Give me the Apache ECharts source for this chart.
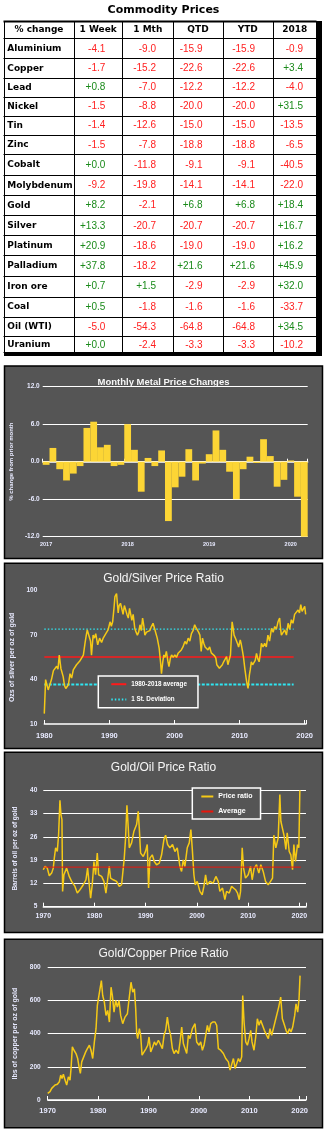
<!DOCTYPE html>
<html><head><meta charset="utf-8">
<script src="https://cdn.jsdelivr.net/npm/echarts/dist/echarts.min.js"></script>
<style>html,body{margin:0;padding:0;background:#fff}#c{width:327px;height:1130px}</style>
</head><body><div id="c"></div>
<script>
// ---------- Table data ----------
const tableHeaders = ['% change', '1 Week', '1 Mth', 'QTD', 'YTD', '2018'];
const commodities = ['Aluminium','Copper','Lead','Nickel','Tin','Zinc','Cobalt','Molybdenum','Gold','Silver','Platinum','Palladium','Iron ore','Coal','Oil (WTI)','Uranium'];
const chgWeek  = [-4.1, -1.7, 0.8, -1.5, -1.4, -1.5, 0.0, -9.2, 8.2, 13.3, 20.9, 37.8, 0.7, 0.5, -5.0, 0.0];
const chgMonth = [-9.0, -15.2, -7.0, -8.8, -12.6, -7.8, -11.8, -19.8, -2.1, -20.7, -18.6, -18.2, 1.5, -1.8, -54.3, -2.4];
const chgQTD   = [-15.9, -22.6, -12.2, -20.0, -15.0, -18.8, -9.1, -14.1, 6.8, -20.7, -19.0, 21.6, -2.9, -1.6, -64.8, -3.3];
const chgYTD   = [-15.9, -22.6, -12.2, -20.0, -15.0, -18.8, -9.1, -14.1, 6.8, -20.7, -19.0, 21.6, -2.9, -1.6, -64.8, -3.3];
const chg2018  = [-0.9, 3.4, -4.0, 31.5, -13.5, -6.5, -40.5, -22.0, 18.4, 16.7, 16.2, 45.9, 32.0, -33.7, 34.5, -10.2];

// ---------- Monthly metal price changes ----------
const monthLabels = ['Jan 2017','Feb 2017','Mar 2017','Apr 2017','May 2017','Jun 2017','Jul 2017','Aug 2017','Sep 2017','Oct 2017','Nov 2017','Dec 2017',
  'Jan 2018','Feb 2018','Mar 2018','Apr 2018','May 2018','Jun 2018','Jul 2018','Aug 2018','Sep 2018','Oct 2018','Nov 2018','Dec 2018',
  'Jan 2019','Feb 2019','Mar 2019','Apr 2019','May 2019','Jun 2019','Jul 2019','Aug 2019','Sep 2019','Oct 2019','Nov 2019','Dec 2019',
  'Jan 2020','Feb 2020','Mar 2020'];
const monthlyChange = [-0.5, 2.2, -1.2, -3.0, -1.9, -0.7, 5.4, 6.4, 2.3, 2.7, -0.7, -0.5,
  6.0, 1.9, -4.8, 0.6, -0.7, 1.8, -9.5, -4.1, -2.4, 2.0, -3.0, -0.3,
  1.2, 5.0, 1.9, -1.6, -6.0, -1.2, 0.8, -0.2, 3.6, 0.9, -4.0, -2.9,
  0.2, -5.6, -12.1];

// ---------- Gold/Silver ratio ----------
const goldSilverRatio = [[1980.0,17],[1980.2,40],[1980.4,39],[1980.6,33],[1980.8,32],[1981.1,40],[1981.4,46],[1981.7,47],[1981.9,49],[1982.1,47],[1982.3,56.5],[1982.55,47.5],[1982.9,42],[1983.1,36],[1983.3,34],[1983.5,33.5],[1983.7,36.5],[1983.95,44],[1984.2,41],[1984.45,46.5],[1984.7,47],[1984.95,50],[1985.2,49],[1985.45,52.5],[1985.7,53],[1986.0,56.5],[1986.25,64.5],[1986.45,70],[1986.6,73.5],[1986.9,72.5],[1987.1,66],[1987.25,56.5],[1987.5,70],[1987.7,68],[1987.9,71],[1988.2,63.5],[1988.5,68],[1988.8,65],[1989.05,68],[1989.45,71],[1989.8,73.5],[1990.1,79],[1990.3,76],[1990.5,79],[1990.7,88],[1990.85,96],[1991.1,98],[1991.35,85],[1991.5,90],[1991.7,91.5],[1991.9,88],[1992.1,84],[1992.3,90],[1992.5,89],[1992.7,84],[1992.9,81.5],[1993.1,88],[1993.25,88],[1993.45,80],[1993.65,84],[1993.9,74.5],[1994.1,72],[1994.3,70],[1994.5,72],[1994.7,77],[1994.9,73],[1995.1,81.5],[1995.3,76],[1995.45,70],[1995.7,72],[1995.95,71],[1996.2,73],[1996.45,75.8],[1996.7,78],[1997.0,73.5],[1997.35,68],[1997.65,61],[1997.85,52],[1998.0,44],[1998.2,52],[1998.36,56.6],[1998.55,55],[1998.75,59],[1999.0,52],[1999.15,48.7],[1999.35,54],[1999.55,56.6],[1999.8,55],[2000.05,56.6],[2000.3,55],[2000.55,57.7],[2000.8,58],[2001.05,60],[2001.3,62],[2001.6,65.7],[2001.85,64],[2002.1,68],[2002.35,66],[2002.6,71],[2002.85,73],[2003.1,77],[2003.3,75],[2003.5,75.8],[2003.7,72],[2003.9,70],[2004.1,59],[2004.3,68],[2004.5,64.5],[2004.7,62],[2004.9,61],[2005.15,60],[2005.4,62],[2005.65,58],[2005.9,59],[2006.15,56],[2006.35,54.5],[2006.5,50],[2006.7,50],[2006.9,47.6],[2007.1,47.6],[2007.35,50],[2007.55,52],[2007.8,53],[2008.0,55.5],[2008.2,50],[2008.4,50],[2008.6,56.6],[2008.85,79],[2009.0,75],[2009.15,70],[2009.35,68],[2009.5,68],[2009.7,64],[2009.85,62],[2010.1,66.8],[2010.25,64],[2010.45,59],[2010.6,55],[2010.8,47.6],[2011.0,41],[2011.15,37],[2011.3,34],[2011.5,43],[2011.65,47],[2011.8,52],[2012.0,50],[2012.2,51],[2012.4,53],[2012.6,57.7],[2012.8,54],[2013.0,52],[2013.2,58],[2013.35,64.5],[2013.6,62],[2013.85,64.5],[2014.1,62],[2014.35,70],[2014.6,66],[2014.9,74.6],[2015.15,72],[2015.4,75.8],[2015.65,74],[2015.9,79],[2016.15,81.5],[2016.3,74],[2016.42,70],[2016.7,69],[2016.93,73.5],[2017.2,70],[2017.45,78],[2017.7,74],[2017.95,80.4],[2018.2,78],[2018.45,84],[2018.7,83],[2018.98,87],[2019.2,85],[2019.4,90.6],[2019.6,86],[2019.75,86],[2020.0,89.5],[2020.15,84]];
const gsPeriod = [1980, 2018.3];
const gsAverage = 55.3;
const gsStdUpper = 74.0;
const gsStdLower = 36.6;

// ---------- Gold/Oil ratio ----------
const goldOilRatio = [[1970,16.1],[1970.33,17.1],[1970.78,16.6],[1971.17,14.3],[1971.63,15.1],[1971.95,16.6],[1972.15,19.6],[1972.41,22.7],[1972.73,21.6],[1972.99,26.7],[1973.25,37.0],[1973.45,32.7],[1973.64,31.2],[1973.77,9.6],[1974.03,14.6],[1974.55,16.6],[1975.07,14.1],[1975.53,12.6],[1976.18,11.1],[1976.64,9.1],[1977.16,10.1],[1977.81,11.6],[1978.33,13.1],[1978.65,16.6],[1978.98,11.6],[1979.24,7.6],[1979.56,11.6],[1979.89,18.6],[1980.21,14.6],[1980.54,21.1],[1980.8,14.6],[1981.39,14.1],[1981.84,12.6],[1982.23,9.1],[1982.56,13.1],[1982.88,17.1],[1983.14,13.6],[1983.66,13.1],[1984.31,12.6],[1984.83,11.1],[1985.29,11.6],[1985.61,11.1],[1985.81,19.6],[1986.07,25.7],[1986.33,35.5],[1986.59,28.7],[1986.79,22.7],[1987.24,24.2],[1987.7,27.7],[1988.22,29.7],[1988.54,33.7],[1988.74,28.7],[1989.0,21.1],[1989.52,20.1],[1989.97,21.7],[1990.3,23.7],[1990.56,10.6],[1990.82,19.6],[1991.28,20.6],[1991.67,18.6],[1992.12,17.6],[1992.64,18.1],[1993.1,20.6],[1993.55,25.2],[1993.88,26.5],[1994.27,23.7],[1994.72,22.7],[1995.24,23.7],[1995.7,21.6],[1996.16,22.7],[1996.68,17.1],[1997.0,15.6],[1997.33,19.1],[1997.65,17.1],[1998.11,22.7],[1998.5,24.2],[1998.82,28.2],[1999.08,22.7],[1999.41,14.6],[1999.67,11.6],[2000.06,12.6],[2000.58,9.6],[2001.03,8.6],[2001.36,11.1],[2001.69,14.6],[2002.01,11.6],[2002.53,12.6],[2003.18,12.1],[2003.7,14.1],[2004.16,12.6],[2004.48,9.6],[2005.0,10.6],[2005.46,7.1],[2005.79,9.6],[2006.31,9.1],[2006.76,11.1],[2007.09,10.6],[2007.54,10.1],[2007.93,9.1],[2008.26,7.1],[2008.52,9.6],[2008.84,22.7],[2009.1,16.6],[2009.49,13.6],[2010.01,14.6],[2010.47,17.1],[2010.79,13.1],[2011.18,16.6],[2011.64,17.6],[2012.09,15.1],[2012.48,17.6],[2012.94,15.6],[2013.4,12.6],[2013.92,11.6],[2014.37,12.6],[2014.76,13.6],[2015.02,26.5],[2015.41,22.7],[2015.87,25.7],[2016.19,38.7],[2016.39,30.7],[2016.72,30.2],[2017.04,26.2],[2017.37,22.2],[2017.63,27.2],[2018.02,21.6],[2018.34,20.6],[2018.67,16.1],[2018.93,23.7],[2019.25,18.6],[2019.64,23.7],[2019.9,22.7],[2020.1,40]];
const goPeriod = [1970, 2020.3];
const goAverage = 16.9;

// ---------- Gold/Copper ratio ----------
const goldCopperRatio = [[1970.0,40],[1970.46,50],[1970.79,70],[1971.12,80],[1971.46,90],[1971.92,95],[1972.31,110],[1972.58,150],[1972.84,130],[1973.11,155],[1973.44,120],[1973.77,90],[1974.1,140],[1974.43,120],[1974.63,190],[1974.89,320],[1975.22,300],[1975.62,280],[1975.95,250],[1976.22,200],[1976.48,160],[1976.75,230],[1977.08,220],[1977.54,290],[1977.87,310],[1978.27,330],[1978.6,300],[1978.93,250],[1979.26,350],[1979.59,430],[1979.85,570],[1980.19,560],[1980.38,670],[1980.65,720],[1980.91,630],[1981.24,590],[1981.57,510],[1981.9,540],[1982.24,470],[1982.57,680],[1982.83,630],[1983.16,530],[1983.49,600],[1983.82,560],[1984.15,600],[1984.48,510],[1984.88,460],[1985.34,500],[1985.81,520],[1986.2,530],[1986.53,710],[1986.87,650],[1987.2,670],[1987.46,550],[1987.66,400],[1987.86,370],[1988.19,430],[1988.45,390],[1988.72,270],[1989.11,260],[1989.51,310],[1989.84,330],[1990.11,380],[1990.44,290],[1990.83,320],[1991.16,350],[1991.5,330],[1991.96,360],[1992.29,340],[1992.75,310],[1993.08,390],[1993.41,420],[1993.74,500],[1994.07,430],[1994.4,390],[1994.74,310],[1995.07,280],[1995.46,300],[1995.93,280],[1996.26,350],[1996.59,440],[1996.92,340],[1997.25,310],[1997.58,280],[1997.91,390],[1998.24,370],[1998.7,430],[1999.23,460],[1999.56,350],[2000.03,330],[2000.36,350],[2000.69,300],[2001.02,330],[2001.35,390],[2001.68,450],[2002.01,410],[2002.34,460],[2002.74,470],[2003.2,470],[2003.53,450],[2003.86,310],[2004.33,300],[2004.86,280],[2005.32,250],[2005.85,230],[2006.18,180],[2006.51,170],[2006.85,250],[2007.18,190],[2007.5,180],[2007.84,250],[2008.17,230],[2008.49,260],[2008.69,630],[2008.96,470],[2009.29,350],[2009.62,330],[2009.95,370],[2010.28,420],[2010.54,350],[2010.93,300],[2011.27,380],[2011.6,490],[2011.93,450],[2012.26,480],[2012.59,490],[2012.99,420],[2013.45,390],[2013.78,370],[2014.11,430],[2014.44,390],[2014.77,380],[2015.1,470],[2015.44,460],[2015.83,560],[2016.23,620],[2016.56,490],[2016.89,460],[2017.29,420],[2017.62,400],[2017.95,430],[2018.28,410],[2018.61,440],[2019.01,510],[2019.27,580],[2019.6,530],[2019.87,610],[2020.07,750]];

// ---------- Styling / layout ----------
const PANEL = '#555555', LAB = '#e8eaff', GOLD = '#f5c916', BAR = '#fcd535';
const FONT = '"Liberation Sans", Arial, sans-serif';
const colX = [4, 74, 122.3, 173.3, 222.7, 272.7, 316.7];
const rowY = [21, 38.3, 58.3, 77.6, 96.6, 115.5, 134.5, 154.3, 174.7, 195, 215.3, 235.3, 255.3, 275.7, 296.5, 316.5, 336.2, 352.3];
const valRight = [105.3, 156, 202.5, 255, 303];
const panels = [[366, 558.5], [563.3, 748.5], [752.3, 932.5], [939.3, 1127.7]];

const px = v => Math.round(v) + 0.5;
const g = [];
panels.forEach(p => g.push({type:'rect', z:-100, silent:true, shape:{x:4.5, y:p[0], width:318, height:p[1]-p[0]}, style:{fill:PANEL, stroke:'#000', lineWidth:1.5}}));
// table
g.push({type:'text', x:163.5, y:10.5, silent:true, style:{text:'Commodity Prices', fill:'#000', font:'bold 11px "DejaVu Sans"', textAlign:'center', textVerticalAlign:'middle', verticalAlign:'middle'}});
g.push({type:'rect', silent:true, shape:{x:316, y:21, width:6, height:335}, style:{fill:'#000'}});
g.push({type:'rect', silent:true, shape:{x:4, y:352, width:318, height:4}, style:{fill:'#000'}});
rowY.forEach((y,i) => g.push({type:'line', silent:true, shape:{x1:3.5, y1:px(y), x2:316.5, y2:px(y)}, style:{stroke:'#000', lineWidth: i===0 ? 2 : 1}}));
colX.forEach(x => g.push({type:'line', silent:true, shape:{x1:px(x), y1:21, x2:px(x), y2:352}, style:{stroke:'#000', lineWidth:1}}));
tableHeaders.forEach((h,j) => g.push({type:'text', silent:true, x:(colX[j]+colX[j+1])/2, y:(rowY[0]+rowY[1])/2+0.5,
  style:{text:h, fill:'#000', font:'bold 9px "DejaVu Sans"', textAlign:'center', textVerticalAlign:'middle', verticalAlign:'middle'}}));
const cols = [chgWeek, chgMonth, chgQTD, chgYTD, chg2018];
commodities.forEach((name,i) => {
  const cy = (rowY[i+1]+rowY[i+2])/2 + 0.5;
  g.push({type:'text', silent:true, x:7.3, y:cy, style:{text:name, fill:'#000', font:'bold 9px "DejaVu Sans"', textAlign:'left', textVerticalAlign:'middle', verticalAlign:'middle'}});
  cols.forEach((arr,j) => {
    const v = arr[i];
    const s = (v >= 0 ? '+' : '') + v.toFixed(1);
    g.push({type:'text', silent:true, x:valRight[j], y:cy, style:{text:s, fill: v >= 0 ? '#1a8a1a' : '#ff2020', font:'10px ' + FONT, textAlign:'right', textVerticalAlign:'middle', verticalAlign:'middle'}});
  });
});

const lab = (size, extra) => Object.assign({color:LAB, fontSize:size, fontWeight:'bold', fontFamily:FONT}, extra||{});
const yearFmt = v => (Math.abs(v % 10) < 1e-6 ? String(Math.round(v)) : '');
const titleStyle = (size, weight) => ({color:'#f6f6f6', fontSize:size, fontWeight:weight, fontFamily:FONT});

const option = {
  animation: false,
  graphic: {elements: g},
  title: [
    {text:'Monthly Metal Price Changes', left:'center', top:377, padding:0, textStyle:titleStyle(9.5,'bold')},
    {text:'Gold/Silver Price Ratio', left:'center', top:573, padding:0, textStyle:titleStyle(12,'normal')},
    {text:'Gold/Oil Price Ratio', left:'center', top:762, padding:0, textStyle:titleStyle(12,'normal')},
    {text:'Gold/Copper Price Ratio', left:'center', top:948, padding:0, textStyle:titleStyle(12,'normal')}
  ],
  legend: [
    {left:98.3, top:676, orient:'vertical', selectedMode:false, itemWidth:15, itemHeight:8, itemGap:9, padding:[5,11,5,12],
     borderColor:'#fff', borderWidth:1.5, borderRadius:0, backgroundColor:PANEL, itemStyle:{opacity:0},
     textStyle:lab(6.3,{color:'#fff'}), data:['1980-2018 average','1 St. Deviation']},
    {left:192.3, top:788, orient:'vertical', selectedMode:false, itemWidth:12, itemHeight:8, itemGap:8, padding:[5,8,4,8],
     borderColor:'#fff', borderWidth:1.5, borderRadius:0, backgroundColor:PANEL, itemStyle:{opacity:0},
     textStyle:lab(7,{color:'#fff'}), data:['Price ratio','Average']}
  ],
  grid: [
    {left:42, top:386.7, width:265.7, height:150},
    {left:44.3, top:590.7, width:261.7, height:133.3},
    {left:43.3, top:790.3, width:262.7, height:116.4},
    {left:47.7, top:967.3, width:258.3, height:132.7}
  ],
  xAxis: [
    {gridIndex:0, type:'category', data:monthLabels, axisLine:{show:false, onZero:false}, axisTick:{show:false},
     axisLabel:Object.assign(lab(5.5), {interval:(i)=> i % 12 === 0, formatter:v => v.slice(-4), margin:5}), splitLine:{show:false}},
    {gridIndex:0, type:'category', data:monthLabels, position:'top', axisLine:{onZero:true, lineStyle:{color:'#fff', width:1.5}},
     axisTick:{show:true, interval:(i)=> i % 12 === 0, length:3, lineStyle:{color:'#fff'}}, axisLabel:{show:false}, splitLine:{show:false}},
    {gridIndex:1, type:'value', min:1980, max:2020.2, interval:10, axisLine:{onZero:false, lineStyle:{color:'#fff', width:1.5}},
     axisTick:{inside:true, length:4, lineStyle:{color:'#fff'}}, axisLabel:Object.assign(lab(7.5), {formatter:yearFmt, margin:8}), splitLine:{show:false}},
    {gridIndex:2, type:'value', min:1970, max:2021.3, interval:10, axisLine:{onZero:false, lineStyle:{color:'#fff', width:1.5}},
     axisTick:{inside:true, length:4, lineStyle:{color:'#fff'}}, axisLabel:Object.assign(lab(7), {formatter:yearFmt, margin:6}), splitLine:{show:false}},
    {gridIndex:3, type:'value', min:1970, max:2021.25, interval:10, axisLine:{onZero:false, lineStyle:{color:'#fff', width:1.5}},
     axisTick:{inside:true, length:4, lineStyle:{color:'#fff'}}, axisLabel:Object.assign(lab(7.5), {formatter:yearFmt, margin:7}), splitLine:{show:false}}
  ],
  yAxis: [
    {gridIndex:0, type:'value', min:-12, max:12, interval:6, axisLine:{show:false}, axisTick:{show:false},
     axisLabel:Object.assign(lab(6.5), {formatter:v => v.toFixed(1), margin:3}),
     splitLine:{lineStyle:{color:'#fff', width:1}},
     name:'% change from prior month', nameLocation:'middle', nameRotate:90, nameGap:19, nameTextStyle:lab(6)},
    {gridIndex:1, type:'value', min:10, max:100, interval:30, axisLine:{show:false}, axisTick:{show:false},
     axisLabel:Object.assign(lab(6.5), {margin:7}), splitLine:{show:false},
     name:'Ozs of silver per oz of gold', nameLocation:'middle', nameRotate:90, nameGap:17, nameTextStyle:lab(7)},
    {gridIndex:2, type:'value', min:5, max:40, interval:7, axisLine:{show:false}, axisTick:{show:false},
     axisLabel:Object.assign(lab(6.5), {margin:6}), splitLine:{lineStyle:{color:'#fff', width:1}},
     name:'Barrels of oil per oz of gold', nameLocation:'middle', nameRotate:90, nameGap:22, nameTextStyle:lab(6.5)},
    {gridIndex:3, type:'value', min:0, max:800, interval:200, axisLine:{show:false}, axisTick:{show:false},
     axisLabel:Object.assign(lab(6.5), {margin:7}), splitLine:{lineStyle:{color:'#fff', width:1}},
     name:'lbs of copper per oz of gold', nameLocation:'middle', nameRotate:90, nameGap:26, nameTextStyle:lab(7)}
  ],
  series: [
    {type:'bar', name:'Monthly change', xAxisIndex:0, yAxisIndex:0, data:monthlyChange, barWidth:'100%', barCategoryGap:'0%', itemStyle:{color:BAR}},
    {type:'line', name:'1980-2018 average', xAxisIndex:2, yAxisIndex:1, data:[[gsPeriod[0], gsAverage],[gsPeriod[1], gsAverage]], symbol:'none',
     itemStyle:{color:'#ff1a1a'}, lineStyle:{color:'#ff1a1a', width:1.5}},
    {type:'line', name:'1 St. Deviation', xAxisIndex:2, yAxisIndex:1, data:[[gsPeriod[0], gsStdUpper],[gsPeriod[1], gsStdUpper]], symbol:'none',
     itemStyle:{color:'#2ee6f2'}, lineStyle:{color:'#2ee6f2', width:1.3, type:[1.5,2]}},
    {type:'line', name:'1 St. Deviation', xAxisIndex:2, yAxisIndex:1, data:[[gsPeriod[0], gsStdLower],[gsPeriod[1], gsStdLower]], symbol:'none',
     itemStyle:{color:'#2ee6f2'}, lineStyle:{color:'#2ee6f2', width:2, type:[3,1.5]}},
    {type:'line', name:'Gold/Silver ratio', xAxisIndex:2, yAxisIndex:1, data:goldSilverRatio, symbol:'none',
     itemStyle:{color:GOLD}, lineStyle:{color:GOLD, width:1.5}},
    {type:'line', name:'Price ratio', xAxisIndex:3, yAxisIndex:2, data:goldOilRatio, symbol:'none',
     itemStyle:{color:GOLD}, lineStyle:{color:GOLD, width:1.5}},
    {type:'line', name:'Average', xAxisIndex:3, yAxisIndex:2, data:[[goPeriod[0], goAverage],[goPeriod[1], goAverage]], symbol:'none',
     itemStyle:{color:'#e8160c'}, lineStyle:{color:'#e8160c', width:1}},
    {type:'line', name:'Gold/Copper ratio', xAxisIndex:4, yAxisIndex:3, data:goldCopperRatio, symbol:'none',
     itemStyle:{color:GOLD}, lineStyle:{color:GOLD, width:1.5}}
  ]
};
const chart = echarts.init(document.getElementById('c'), null, {renderer:'canvas'});
chart.setOption(option);
</script>
</body></html>
